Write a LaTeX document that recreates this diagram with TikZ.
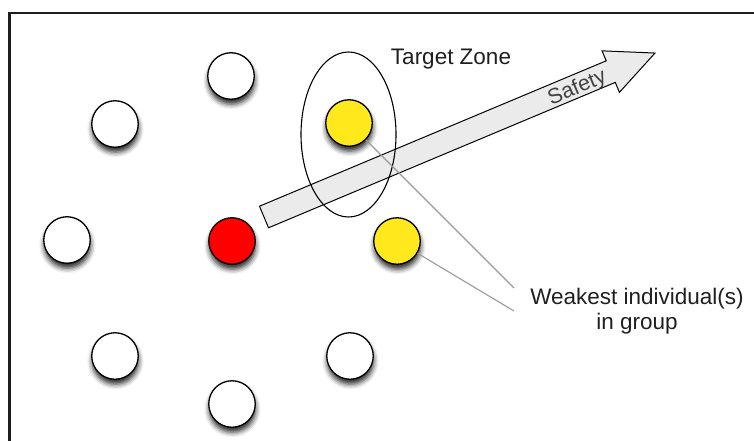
\documentclass[tikz,border=0pt]{standalone}
\usepackage{fontspec}
\setmainfont{Liberation Sans}
\usetikzlibrary{shadows.blur}

\definecolor{dotyellow}{HTML}{FFE91C}
\definecolor{dotred}{HTML}{FF0000}
\definecolor{arrowfill}{HTML}{EBEBEB}
\definecolor{leadergray}{HTML}{9A9A9A}
\definecolor{framegray}{HTML}{1E1E1E}
\definecolor{inkgray}{HTML}{1F1F1F}

\begin{document}
\begin{tikzpicture}[x=1pt, y=-1pt,
  member/.style={circle, draw=black, line width=1.3pt, minimum size=46.5pt,
    inner sep=0pt, fill=white,
    blur shadow={shadow xshift=0.5pt, shadow yshift=-5pt,
      shadow blur radius=5pt, shadow opacity=85}},
  weak/.style={member, fill=dotyellow},
  leader/.style={member, fill=dotred},
  zone/.style={draw=black, line width=1.1pt},
  safetyarrow/.style={draw=black, line width=1pt, fill=arrowfill, line join=miter},
  pointer/.style={draw=leadergray, line width=1.1pt},
  caption/.style={font=\fontsize{22.5}{25}\selectfont, text=inkgray, inner sep=0pt},
]
\useasboundingbox (0,0) rectangle (754,441);

% frame (only its left and top edges fall inside the page)
\draw[framegray, line width=2.6pt] (9.5,445) |- (760,13);

% the group
\node[member] (n1) at (231,76)  {};
\node[member] (n2) at (115,124) {};
\node[weak]   (w1) at (349,123) {};
\node[member] (n3) at (67,240)  {};
\node[leader] (r)  at (232,241) {};
\node[weak]   (w2) at (397,241) {};
\node[member] (n4) at (115,356) {};
\node[member] (n5) at (350,356) {};
\node[member] (n6) at (232,404) {};

% safety arrow
\begin{scope}[shift={(264,217)}, rotate=22.75]
  \draw[safetyarrow] (0,11.7) -- (376,11.7) -- (376,22.5) -- (424,0)
    -- (376,-22.5) -- (376,-11.7) -- (0,-11.7) -- cycle;
\end{scope}
\node[caption, font=\fontsize{21.5}{24}\selectfont, text=inkgray!85,
  rotate=22.75, anchor=base] (safety) at (579.5,93.5) {Safety};

% target zone
\draw[zone] (348.5,134.5) ellipse [x radius=47.5, y radius=82.5];
\node[caption, anchor=base] (tz) at (451,65) {Target Zone};

% label and its pointers
\node[caption, align=center] (lbl) at (637,311) {Weakest individual(s)\\in group};
\coordinate (p1) at (514,288);
\coordinate (p2) at (514,311);
\draw[pointer] (w1) -- (p1);
\draw[pointer] (w2) -- (p2);
\end{tikzpicture}
\end{document}
